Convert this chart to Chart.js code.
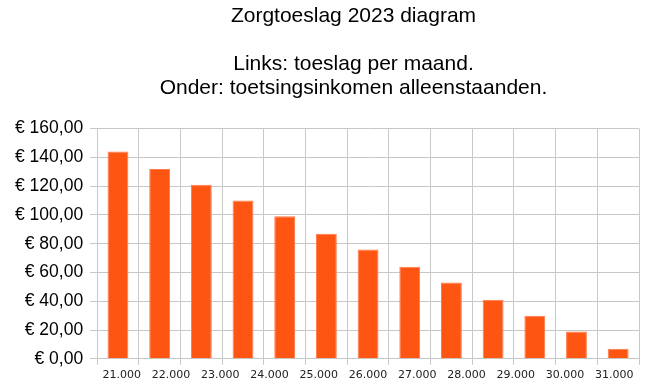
<!DOCTYPE html>
<html>
<head>
<meta charset="utf-8">
<script src="https://cdn.jsdelivr.net/npm/chart.js@4/dist/chart.umd.min.js"></script>
<style>
  html, body { margin: 0; padding: 0; background: #fff; }
  #wrap { width: 650px; height: 387px; }
</style>
</head>
<body>
<div id="wrap"><canvas id="myChart"></canvas></div>
<script>
// Zorgtoeslag 2023, staafdiagram

var titleLines = ["Zorgtoeslag 2023 diagram", "", "Links: toeslag per maand.", "Onder: toetsingsinkomen alleenstaanden."];

// 13 staven, maar onder de as staan maar 11 inkomens
var barSlots = ["1", "2", "3", "4", "5", "6", "7", "8", "9", "10", "11", "12", "13"];
var toeslag = [144, 132, 121, 110, 99, 87, 76, 64, 53, 41, 30, 19, 7];
var inkomens = ["21.000", "22.000", "23.000", "24.000", "25.000", "26.000", "27.000", "28.000", "29.000", "30.000", "31.000"];

var gridColor = "#c8c8c8";

function euro(v){
  return "€ " + v.toFixed(2).replace(".", ",");
}

// titel staat iets links van het midden van de plot
var titleText = titleLines.map(function(t){ return t + "     "; });

var ctx = document.getElementById("myChart");

var myChart = new Chart(ctx, {
  type: "bar",
  data: {
    datasets: [
      {
        label: "Toeslag per maand",
        data: toeslag,
        xAxisID: "x",
        backgroundColor: "#ff5512",
        borderColor: "#ff7a4a",
        borderWidth: 1,
        barPercentage: 0.5,
        categoryPercentage: 1.0
      }
    ]
  },
  options: {
    responsive: true,
    maintainAspectRatio: false,
    animation: false,
    layout: {
      padding: { left: 8, right: 11, top: 4, bottom: 1 }
    },
    plugins: {
      legend: { display: false },
      tooltip: {
        callbacks: {
          label: function(c){ return euro(c.parsed.y); }
        }
      },
      title: {
        display: true,
        text: titleText,
        fullSize: false,
        color: "#000",
        font: { family: "'Liberation Sans', Arial, sans-serif", size: 21, weight: "normal", lineHeight: 1.15 },
        padding: { top: 0, bottom: 28 }
      }
    },
    scales: {
      x: {
        type: "category",
        labels: barSlots,
        offset: true,
        grid: { color: gridColor, offset: true, tickLength: 6 },
        border: { color: gridColor },
        ticks: { display: false }
      },
      x2: {
        type: "category",
        labels: inkomens,
        position: "bottom",
        offset: true,
        grid: { display: false, drawTicks: false },
        border: { display: false },
        ticks: {
          color: "#222",
          padding: 4,
          autoSkip: false,
          maxRotation: 0,
          font: { family: "'DejaVu Sans', Verdana, sans-serif", size: 11 }
        }
      },
      y: {
        min: 0,
        max: 160,
        grid: { color: gridColor, tickLength: 7 },
        border: { color: gridColor },
        ticks: {
          stepSize: 20,
          color: "#000",
          padding: 7,
          font: { family: "'Liberation Sans', Arial, sans-serif", size: 17.5 },
          callback: function(v){ return euro(v); }
        }
      }
    }
  }
});
</script>
</body>
</html>
